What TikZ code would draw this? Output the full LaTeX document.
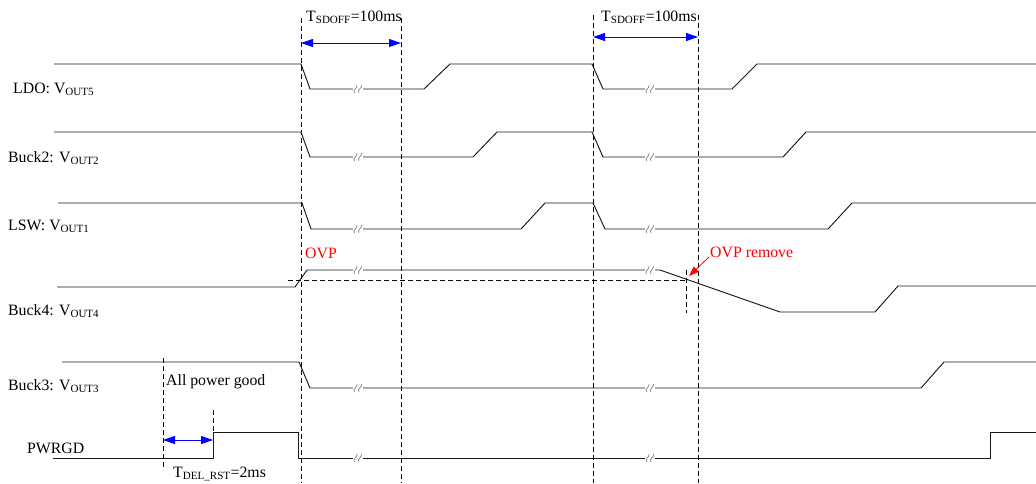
\documentclass[tikz,border=0pt]{standalone}
\usepackage{fontspec}
\setmainfont{Liberation Serif}
\usetikzlibrary{arrows.meta}

\tikzset{
    sig/.style={black!90, line width=0.95pt, line join=miter},
    guide/.style={black, line width=0.7pt, dash pattern=on 5pt off 3pt},
    span/.style={blue, line width=0.9pt, {Triangle[length=12pt,width=8pt]}-{Triangle[length=12pt,width=8pt]}},
    lbl/.style={anchor=base west, inner sep=0pt},
    brk/.pic={
        \fill[white] (-5,-4.5) rectangle (5,4.5);
        \draw[gray, line width=0.7pt] (-3.5,4) .. controls (-6,1) and (0,-1) .. (-1,-4);
        \draw[gray, line width=0.7pt] (1,4) .. controls (-1.5,1) and (4.5,-1) .. (3.5,-4);
    }
}

\begin{document}
\begin{tikzpicture}[x=1pt, y=-1pt, font=\fontsize{15.8}{19}\selectfont]
    \useasboundingbox (0,0) rectangle (1036,483);

    % Signal names
    \node[lbl] (ldo) at (13,93) {LDO: V\textsubscript{OUT5}};
    \node[lbl] (buck2) at (8,162) {Buck2: V\textsubscript{OUT2}};
    \node[lbl] (lsw) at (8,230) {LSW: V\textsubscript{OUT1}};
    \node[lbl] (buck4) at (8,315) {Buck4: V\textsubscript{OUT4}};
    \node[lbl] (buck3) at (8,390) {Buck3: V\textsubscript{OUT3}};
    \node[lbl] (pwrgd) at (27,453) {PWRGD};

    % Waveforms
    \draw[sig] (54,64) -- (301,64) -- (310,89) -- (424,89) -- (450,64) -- (592,64)
        -- (603,89) -- (732,89) -- (757,64) -- (1036,64);
    \draw[sig] (54,132) -- (301,132) -- (310,157) -- (473,157) -- (497,132) -- (592,132)
        -- (603,157) -- (783,157) -- (806,132) -- (1036,132);
    \draw[sig] (58,203) -- (302,203) -- (311,229) -- (521,229) -- (545,203) -- (593,203)
        -- (605,229) -- (828,229) -- (852,203) -- (1036,203);
    \draw[sig] (57,287) -- (295,287) -- (307,270) -- (660,270) -- (780,312) -- (875,312)
        -- (898,286) -- (1036,286);
    \draw[sig] (62,362) -- (299,362) -- (310,388) -- (921,388) -- (944,362) -- (1036,362);
    \draw[sig] (53,458) -- (213,458) -- (213,432) -- (298,432) -- (298,458) -- (990,458)
        -- (990,432) -- (1036,432);

    % Time breaks
    \foreach \y in {89,157,229,270,388,458} {
        \pic at (358,\y) {brk};
        \pic at (650,\y) {brk};
    }

    % Guide lines
    \coordinate (g1) at (301,18);
    \coordinate (g2) at (401,18);
    \coordinate (g3) at (593,15);
    \coordinate (g4) at (698,15);
    \foreach \g in {g1,g2,g3,g4}
        \draw[guide] (\g) -- (\g |- 0,483);
    \draw[guide] (163,358) -- (163,470);
    \draw[guide] (213,410) -- (213,432);
    \draw[guide] (288,280) -- (686,280);
    \draw[guide] (686,270) -- (686,313);

    % Delay times
    \coordinate (sd1l) at (301,43);
    \coordinate (sd1r) at (401,43);
    \coordinate (sd2l) at (593,37);
    \coordinate (sd2r) at (698,37);
    \coordinate (rstl) at (163,440);
    \coordinate (rstr) at (213,440);
    \draw[span] (sd1l) -- (sd1r);
    \draw[span] (sd2l) -- (sd2r);
    \draw[span] (rstl) -- (rstr);
    \node[lbl] (sdoff1) at (306,21) {T\textsubscript{SDOFF}=100ms};
    \node[lbl] (sdoff2) at (601,21) {T\textsubscript{SDOFF}=100ms};
    \node[lbl] (delrst) at (173,477) {T\textsubscript{DEL\_RST}=2ms};
    \node[lbl] (allgood) at (166,385) {All power good};

    % Over voltage
    \node[lbl, red] (ovp) at (305,258) {OVP};
    \node[lbl, red] (ovprm) at (710,257) {OVP remove};
    \coordinate (rmv) at (689,276);
    \draw[red, line width=0.8pt, -{Triangle[length=10pt,width=7pt]}] ([xshift=-1pt]ovprm.base west) -- (rmv);
\end{tikzpicture}
\end{document}
